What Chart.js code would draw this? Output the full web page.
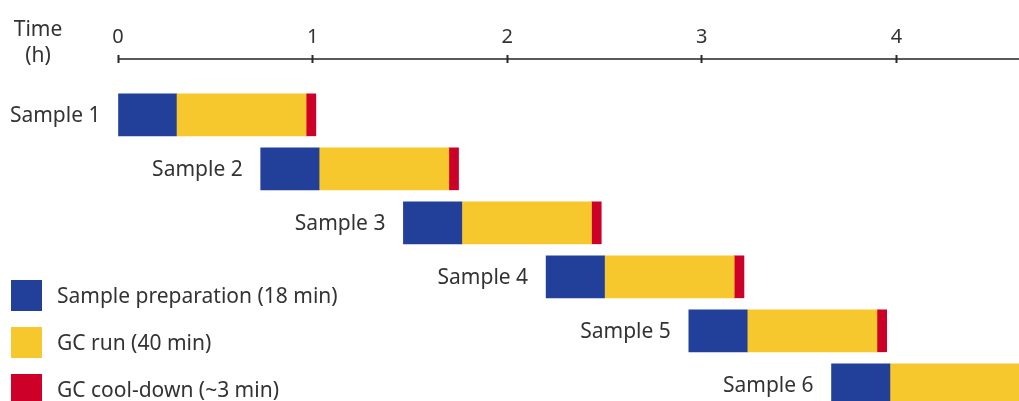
<!DOCTYPE html>
<html>
<head>
<meta charset="utf-8">
<script src="https://cdn.jsdelivr.net/npm/chart.js@4.4.1/dist/chart.umd.min.js"></script>
<style>
  html, body { margin: 0; padding: 0; background: #ffffff; }
  #wrap { width: 1019px; height: 401px; position: relative; overflow: hidden; }
  canvas { display: block; }
</style>
</head>
<body>
<div id="wrap"><canvas id="gantt" width="1019" height="401"></canvas></div>
<script>
// Samples processed in a staggered sequence (times in minutes)
const samples = ['Sample 1', 'Sample 2', 'Sample 3', 'Sample 4', 'Sample 5', 'Sample 6'];
const startMinutes = [0, 44, 88, 132, 176, 220];
const prepMinutes = [18, 18, 18, 18, 18, 18];
const runMinutes = [40, 40, 40, 40, 40, 40];
const coolMinutes = [3, 3, 3, 3, 3, 3];

const phaseLabels = ['Sample preparation (18 min)', 'GC run (40 min)', 'GC cool-down (~3 min)'];
const phaseColors = ['#22409a', '#f6c82e', '#cc0029'];

const hourTicks = [0, 1, 2, 3, 4];
const axisTitleLines = ['Time', '(h)'];
const axisMaxHours = 4.63;

const FONT = '"Noto Sans", "Open Sans", sans-serif';
const TEXT = '#333333';

// Floating bar segments [start, end] in hours for each phase
const prepSeg = [], runSeg = [], coolSeg = [];
samples.forEach((s, i) => {
  const a = startMinutes[i];
  const b = a + prepMinutes[i];
  const c = b + runMinutes[i];
  const d = c + coolMinutes[i];
  prepSeg.push({ y: i + 1, x: [a / 60, b / 60] });
  runSeg.push({ y: i + 1, x: [b / 60, c / 60] });
  coolSeg.push({ y: i + 1, x: [c / 60, d / 60] });
});

const segs = [prepSeg, runSeg, coolSeg];
const datasets = segs.map((data, k) => ({
  label: phaseLabels[k],
  data: data,
  backgroundColor: phaseColors[k],
  borderWidth: 0,
  barThickness: 42,
  grouped: false
}));

const ganttDecor = {
  id: 'ganttDecor',
  beforeDraw(chart) {
    // horizontal time axis line through the middle of the tick marks
    const { ctx, chartArea } = chart;
    const xs = chart.scales.x;
    const y = xs.bottom - 4;
    ctx.save();
    ctx.strokeStyle = '#5a5a5a';
    ctx.lineWidth = 2;
    ctx.beginPath();
    ctx.moveTo(chartArea.left, y);
    ctx.lineTo(chart.width, y);
    ctx.stroke();
    ctx.restore();
  },
  afterDatasetsDraw(chart) {
    // sample names to the left of each bar
    const { ctx } = chart;
    const meta = chart.getDatasetMeta(0);
    ctx.save();
    ctx.font = '21px ' + FONT;
    ctx.fillStyle = TEXT;
    ctx.textAlign = 'right';
    ctx.textBaseline = 'middle';
    meta.data.forEach((bar, i) => {
      const left = Math.min(bar.x, bar.base);
      ctx.fillText(samples[i], left - 18, bar.y + 1.5);
    });
    ctx.restore();
  },
  afterDraw(chart) {
    const { ctx } = chart;
    ctx.save();
    ctx.font = '21px ' + FONT;
    ctx.fillStyle = TEXT;
    // axis title
    ctx.textAlign = 'center';
    ctx.textBaseline = 'middle';
    ctx.fillText(axisTitleLines[0], 38, 30.5);
    ctx.fillText(axisTitleLines[1], 38, 56.5);
    // legend
    chart.data.datasets.forEach((ds, k) => {
      const top = 280 + k * 47;
      ctx.fillStyle = ds.backgroundColor;
      ctx.fillRect(11, top, 31, 31);
      ctx.fillStyle = TEXT;
      ctx.textAlign = 'left';
      ctx.fillText(ds.label, 57, top + 17.5);
    });
    ctx.restore();
  }
};

new Chart(document.getElementById('gantt'), {
  type: 'bar',
  data: { datasets: datasets },
  options: {
    indexAxis: 'y',
    responsive: false,
    animation: false,
    devicePixelRatio: 1,
    layout: { padding: { left: 118, right: 0, top: 0, bottom: 0 } },
    plugins: { legend: { display: false }, tooltip: { enabled: false } },
    scales: {
      x: {
        type: 'linear',
        position: 'top',
        min: 0,
        max: axisMaxHours,
        afterBuildTicks: (scale) => { scale.ticks = hourTicks.map(v => ({ value: v })); },
        afterFit: (scale) => { scale.height = 63; },
        border: { display: false },
        grid: { drawOnChartArea: false, drawTicks: true, tickLength: 8, tickWidth: 2, tickColor: '#2b2b2b' },
        ticks: { color: TEXT, font: { family: FONT, size: 20 }, padding: 6, maxRotation: 0 }
      },
      y: {
        type: 'linear',
        reverse: true,
        offset: false,
        min: 0.04,
        max: 6.3,
        display: false
      }
    }
  },
  plugins: [ganttDecor]
});
</script>
</body>
</html>
